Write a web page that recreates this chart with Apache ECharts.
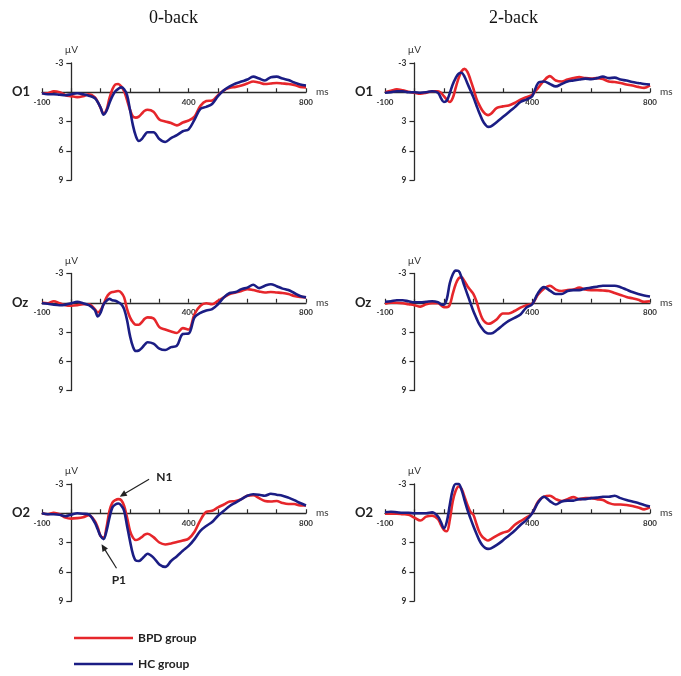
<!DOCTYPE html>
<html><head><meta charset="utf-8">
<script src="https://cdn.jsdelivr.net/npm/echarts@6/dist/echarts.min.js"></script>
<style>html,body{margin:0;padding:0;background:#fff}#c{width:681px;height:676px}</style>
</head><body><div id="c"></div><script>
// ---- data (ms, µV) ----
const times = [-100,-80,-60,-40,-20,0,20,40,60,80,
  90,100,110,120,130,140,150,160,170,180,190,200,210,220,230,240,250,260,
  280,300,320,340,360,380,400,420,440,460,480,500,520,540,560,580,600,620,640,660,680,700,720,740,760,780,800];
const conditions = ['0-back', '2-back'];
const electrodes = ['O1', 'Oz', 'O2'];
const groups = ['BPD group', 'HC group'];
const xTickLabels = [-100, 400, 800];
const yTickLabels = [-3, 3, 6, 9];

const bpd_0back_O1 = [0.1,0.1,-0.1,0.0,0.3,0.4,0.5,0.4,0.2,0.5,
  1.0,1.6,2.2,1.8,0.6,-0.3,-0.8,-0.85,-0.6,-0.1,0.8,1.8,2.5,2.6,2.5,2.2,1.9,1.8,
  2.0,2.8,3.0,3.15,3.4,3.1,2.9,2.5,1.4,0.9,0.85,0.3,-0.2,-0.45,-0.55,-0.7,-0.9,-1.1,-1.0,-0.85,-0.9,-0.95,-0.9,-0.85,-0.75,-0.55,-0.5];
const hc_0back_O1 = [0.1,0.2,0.2,0.25,0.3,0.2,0.1,0.2,0.35,0.6,
  1.0,1.6,2.3,1.9,1.1,0.4,-0.1,-0.35,-0.5,-0.3,0.3,1.8,3.4,4.5,5.0,4.8,4.4,4.1,
  4.1,4.8,5.1,4.7,4.4,4.0,3.8,2.8,1.7,1.5,1.2,0.4,-0.2,-0.6,-0.9,-1.1,-1.3,-1.6,-1.4,-1.2,-1.55,-1.6,-1.4,-1.25,-1.0,-0.8,-0.7];

const bpd_2back_O1 = [0.0,-0.15,-0.3,-0.2,-0.05,0.05,0.15,0.05,-0.1,-0.1,
  0.05,0.4,0.75,1.0,0.6,-0.45,-1.45,-2.15,-2.4,-2.1,-1.3,-0.4,0.6,1.3,1.85,2.2,2.35,2.2,
  1.6,1.45,1.35,1.1,0.75,0.5,0.25,-0.45,-1.2,-1.65,-1.2,-1.1,-1.3,-1.45,-1.55,-1.45,-1.4,-1.45,-1.35,-1.1,-1.05,-0.95,-0.8,-0.7,-0.55,-0.45,-0.7];
const hc_2back_O1 = [0.05,0.0,-0.1,-0.1,0.0,0.0,0.05,0.0,-0.1,0.05,
  0.6,1.0,0.85,0.1,-0.8,-1.45,-1.9,-2.0,-1.6,-0.9,-0.2,0.5,1.3,2.1,2.8,3.3,3.55,3.5,
  3.05,2.55,2.05,1.55,1.0,0.75,0.4,-0.95,-1.1,-0.85,-0.6,-0.85,-1.1,-1.2,-1.3,-1.4,-1.35,-1.45,-1.6,-1.45,-1.5,-1.3,-1.2,-1.05,-0.95,-0.85,-0.8];

const bpd_0back_Oz = [0.0,0.05,-0.15,0.05,0.25,0.3,0.25,0.15,0.15,0.65,
  1.0,0.75,0.15,-0.55,-0.95,-1.1,-1.15,-1.2,-1.05,-0.55,0.65,1.5,2.0,2.25,2.25,2.0,1.65,1.5,
  1.6,2.5,2.75,2.95,3.1,2.6,2.75,1.15,0.3,0.05,0.15,-0.2,-0.55,-0.9,-1.05,-1.2,-1.4,-1.3,-1.15,-1.05,-1.1,-1.05,-1.0,-0.9,-0.7,-0.6,-0.55];
const hc_0back_Oz = [0.05,0.1,0.2,0.25,0.2,0.05,-0.1,0.05,0.25,0.75,
  1.4,1.0,0.15,-0.2,-0.4,-0.25,-0.2,-0.05,0.15,0.65,1.8,3.4,4.5,4.95,4.9,4.65,4.3,4.05,
  4.2,4.7,4.85,4.55,4.4,3.2,3.15,1.5,1.05,0.8,0.65,0.15,-0.55,-1.0,-1.1,-1.4,-1.55,-1.85,-1.5,-1.75,-1.9,-1.7,-1.45,-1.3,-1.0,-0.7,-0.55];

const bpd_2back_Oz = [0.1,0.0,0.0,0.05,0.15,0.25,0.4,0.15,0.05,0.05,
  0.25,0.45,0.45,0.2,-0.9,-1.9,-2.5,-2.6,-2.2,-1.7,-1.3,-0.9,-0.2,0.8,1.6,2.0,2.15,2.1,
  1.7,1.1,1.1,0.85,0.5,0.25,0.1,-0.85,-1.45,-1.75,-1.35,-1.2,-1.3,-1.35,-1.55,-1.35,-1.3,-1.3,-1.25,-1.2,-1.0,-0.8,-0.6,-0.45,-0.3,-0.1,-0.15];
const hc_2back_Oz = [-0.1,-0.15,-0.25,-0.25,-0.15,-0.05,-0.05,-0.1,-0.15,-0.05,
  0.15,0.2,-0.4,-2.0,-2.9,-3.3,-3.25,-2.6,-1.7,-0.85,0.0,0.85,1.55,2.2,2.65,3.0,3.15,3.15,
  2.8,2.3,1.85,1.55,1.2,0.5,0.15,-1.0,-1.6,-1.25,-0.9,-0.9,-1.2,-1.3,-1.3,-1.45,-1.55,-1.65,-1.75,-1.75,-1.75,-1.6,-1.35,-1.1,-0.9,-0.75,-0.65];

const bpd_0back_O2 = [0.0,0.1,-0.05,0.1,0.45,0.55,0.5,0.4,0.2,0.8,
  1.45,2.35,2.5,1.45,-0.25,-1.1,-1.35,-1.45,-1.35,-0.75,0.45,1.8,2.5,2.75,2.65,2.45,2.2,2.1,
  2.45,3.0,3.2,3.1,2.95,2.8,2.6,1.9,0.7,-0.15,-0.25,-0.6,-0.9,-1.2,-1.25,-1.45,-1.8,-1.85,-1.55,-1.25,-1.2,-1.25,-1.05,-0.95,-0.95,-0.8,-0.8];
const hc_0back_O2 = [0.0,0.1,0.1,0.15,0.3,0.15,0.0,0.05,0.15,0.95,
  1.65,2.35,2.65,1.8,0.45,-0.6,-0.9,-1.0,-0.8,-0.25,1.3,2.85,4.2,4.85,4.9,4.7,4.4,4.15,
  4.55,5.25,5.5,4.9,4.4,3.85,3.35,2.65,1.8,1.3,0.9,0.25,-0.25,-0.75,-1.1,-1.45,-1.8,-1.95,-1.9,-1.8,-2.0,-1.9,-1.8,-1.6,-1.35,-1.05,-0.8];

const bpd_2back_O2 = [0.05,0.05,0.05,0.1,0.15,0.45,0.75,0.35,0.25,0.6,
  1.2,1.7,1.85,0.7,-1.2,-2.3,-2.75,-2.5,-1.7,-0.85,-0.15,0.15,1.05,1.9,2.4,2.65,2.8,2.65,
  2.3,2.0,1.8,1.2,0.8,0.45,0.0,-1.2,-1.7,-1.8,-1.45,-1.25,-1.45,-1.65,-1.45,-1.55,-1.55,-1.45,-1.35,-1.05,-0.9,-0.9,-0.85,-0.75,-0.6,-0.4,-0.6];
const hc_2back_O2 = [-0.1,-0.15,-0.1,-0.05,-0.05,0.0,0.0,0.0,-0.1,0.35,
  0.9,1.55,0.85,-0.85,-2.4,-3.0,-3.0,-2.4,-1.35,-0.35,0.5,1.3,2.05,2.75,3.25,3.55,3.65,3.6,
  3.25,2.8,2.3,1.8,1.2,0.7,0.0,-1.1,-1.7,-1.25,-0.9,-1.2,-1.3,-1.3,-1.45,-1.45,-1.55,-1.6,-1.7,-1.7,-1.8,-1.55,-1.35,-1.2,-1.05,-0.85,-0.7];

// panel order: row (electrode) major, column (condition) minor
const panelData = [
  [bpd_0back_O1, hc_0back_O1], [bpd_2back_O1, hc_2back_O1],
  [bpd_0back_Oz, hc_0back_Oz], [bpd_2back_Oz, hc_2back_Oz],
  [bpd_0back_O2, hc_0back_O2], [bpd_2back_O2, hc_2back_O2]
];

// ---- layout / style ----
const X_MIN = -100, X_MAX = 800, Y_MIN = -3, Y_MAX = 9;
const colLeft = [42, 385], colWidth = [264, 265];
const rowTop = [63, 273.5, 484], rowHeight = 117;
const colors = ['#e6262b', '#1b1d84'];
const axisColor = '#2a2a2a';
const sans = 'Lato, "Open Sans", sans-serif';

const chart = echarts.init(document.getElementById('c'), null, {renderer: 'canvas'});
const grid = [], xAxis = [], yAxis = [], series = [];
for (let r = 0; r < 3; r++) {
  for (let c = 0; c < 2; c++) {
    const i = r * 2 + c;
    // shift the axes so they cross at (0, 0)
    const yOffset = -colWidth[c] * (0 - X_MIN) / (X_MAX - X_MIN);
    const xOffset = -rowHeight * (Y_MAX - 0) / (Y_MAX - Y_MIN);
    grid.push({left: colLeft[c], width: colWidth[c], top: rowTop[r], height: rowHeight});
    xAxis.push({
      type: 'value', gridIndex: i, min: X_MIN, max: X_MAX, interval: 100,
      position: 'bottom', offset: xOffset,
      axisLine: {onZero: false, lineStyle: {color: axisColor, width: 1.3}},
      axisTick: {inside: true, length: 4, lineStyle: {color: axisColor, width: 1.2}},
      axisLabel: {
        formatter: v => xTickLabels.includes(v) ? String(v) : '',
        fontSize: 8, fontWeight: 'bold', color: '#333', fontFamily: sans, margin: 6
      },
      splitLine: {show: false},
      name: 'ms', nameLocation: 'end', nameGap: 10,
      nameTextStyle: {fontSize: 10, color: '#333', fontFamily: sans}
    });
    yAxis.push({
      type: 'value', gridIndex: i, inverse: true, min: Y_MIN, max: Y_MAX, interval: 3,
      position: 'left', offset: yOffset,
      axisLine: {show: true, onZero: false, lineStyle: {color: axisColor, width: 1.3}},
      axisTick: {show: true, length: 5, lineStyle: {color: axisColor, width: 1.2}},
      axisLabel: {
        formatter: v => yTickLabels.includes(v) ? String(v) : '',
        fontSize: 8.5, fontWeight: 'bold', color: '#333', fontFamily: sans, margin: 8
      },
      splitLine: {show: false},
      name: 'µV', nameLocation: 'start', nameGap: 8,
      nameTextStyle: {fontSize: 10, color: '#333', fontFamily: sans, align: 'center'}
    });
    for (let g = 0; g < 2; g++) {
      series.push({
        type: 'line', name: groups[g], xAxisIndex: i, yAxisIndex: i,
        data: times.map((t, k) => [t, panelData[i][g][k]]),
        smooth: 0.35, showSymbol: false, symbol: 'none', clip: false,
        lineStyle: {color: colors[g], width: 2.6},
        itemStyle: {color: colors[g]},
        z: 2 + g, silent: true
      });
    }
  }
}

chart.setOption({
  animation: false,
  backgroundColor: '#fff',
  title: [
    {text: conditions[0], left: 144, top: 4, textStyle: {fontFamily: '"Liberation Serif", "DejaVu Serif", serif', fontSize: 18, fontWeight: 'normal', color: '#111'}},
    {text: conditions[1], left: 484, top: 4, textStyle: {fontFamily: '"Liberation Serif", "DejaVu Serif", serif', fontSize: 18, fontWeight: 'normal', color: '#111'}}
  ],
  legend: {
    data: groups, orient: 'vertical', left: 69, top: 627, itemGap: 14,
    itemWidth: 59, itemHeight: 2.5, icon: 'rect',
    textStyle: {fontFamily: sans, fontWeight: 'bold', fontSize: 12, color: '#222'}
  },
  grid, xAxis, yAxis, series
});

// ---- row labels and annotations (anchored through the axes) ----
const rowLabelX = [12, 355];
const annotations = [
  {text: 'N1', from: [265, -3.49], to: [165, -1.7], label: [317, -3.72]},
  {text: 'P1', from: [154, 5.64], to: [103, 3.18], label: [162, 6.84]}
];
const graphic = [];
for (let r = 0; r < 3; r++) {
  for (let c = 0; c < 2; c++) {
    const i = r * 2 + c;
    const y0 = chart.convertToPixel({yAxisIndex: i}, 0);
    graphic.push({type: 'text', x: rowLabelX[c], y: y0,
      style: {text: electrodes[r], font: 'bold 13px Lato, "Open Sans", sans-serif', fill: '#222', align: 'left', verticalAlign: 'middle'}});
  }
}
const annGrid = 4;
annotations.forEach(a => {
  const p1 = chart.convertToPixel({gridIndex: annGrid}, a.from);
  const p2 = chart.convertToPixel({gridIndex: annGrid}, a.to);
  const pl = chart.convertToPixel({gridIndex: annGrid}, a.label);
  const dx = p2[0] - p1[0], dy = p2[1] - p1[1];
  const len = Math.hypot(dx, dy), ux = dx / len, uy = dy / len;
  const L = 7, W = 3.2;
  const bx = p2[0] - ux * L, by = p2[1] - uy * L;
  graphic.push({type: 'line', shape: {x1: p1[0], y1: p1[1], x2: bx + ux * 1, y2: by + uy * 1},
    style: {stroke: '#222', lineWidth: 1.2}});
  graphic.push({type: 'polygon', shape: {points: [[p2[0], p2[1]], [bx - uy * W, by + ux * W], [bx + uy * W, by - ux * W]]},
    style: {fill: '#222'}});
  graphic.push({type: 'text', x: pl[0], y: pl[1],
    style: {text: a.text, font: 'bold 12px Lato, "Open Sans", sans-serif', fill: '#222', align: 'center', verticalAlign: 'middle'}});
});
chart.setOption({graphic});
</script></body></html>
